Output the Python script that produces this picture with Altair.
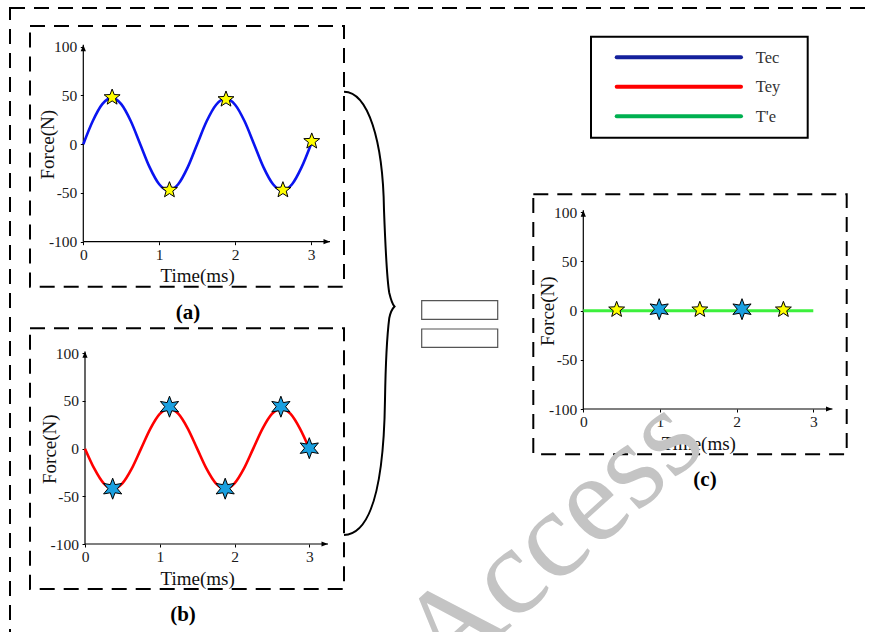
import math
import altair as alt
import pandas as pd

SERIF = "Liberation Serif"
W, H = 869, 632

# ---------------- data ----------------
time_ms = [0, 0.125, 0.25, 0.375, 0.5, 0.625, 0.75, 0.875, 1.0, 1.125, 1.25, 1.375,
           1.5, 1.625, 1.75, 1.875, 2.0, 2.125, 2.25, 2.375, 2.5, 2.625, 2.75, 2.875, 3.0]
force_tec = [0, 23.8, 41.1, 47.5, 41.1, 23.8, 0, -23.8, -41.1, -47.5, -41.1, -23.8,
             0, 23.5, 40.5, 46.8, 40.5, 23.5, 0, -23.8, -41.1, -47.5, -41.1, -23.8, 0]
force_tey = [0, -21, -36.4, -42, -36.4, -21, 0, 21, 36.4, 42, 36.4, 21,
             0, -21, -36.4, -42, -36.4, -21, 0, 21, 36.4, 42, 36.4, 21, 0]

star_a_t = [0.38, 1.135, 1.88, 2.63, 3.01]
star_a_f = [48, -47, 46, -47, 3]
star_b_t = [0.37, 1.13, 1.875, 2.62, 3.0]
star_b_f = [-42, 44, -42, 44, 0.5]

te_t = [0, 3]
te_f = [0, 0]
star_c5_t = [0.435, 1.52, 2.61]
star_c5_f = [1, 1, 1]
star_c6_t = [0.99, 2.07]
star_c6_f = [1.5, 1.5]

x_ticks = [0, 1, 2, 3]
y_ticks = [-100, -50, 0, 50, 100]
x_axis_end = 3.25
y_axis_end = 102

legend_labels = ["Tec", "Tey", "T'e"]
legend_colors = ["#14209c", "#ff0000", "#00b050"]
legend_rows = [0, 1, 2]

# ---------------- styles / geometry ----------------
GEO = {
    "a": dict(xr=[83.3, 311.0], yr=[241.7, 46.7]),
    "b": dict(xr=[85.0, 309.3], yr=[544.0, 353.3]),
    "c": dict(xr=[583.3, 813.3], yr=[409.0, 212.3]),
}

def star_path(n, inner):
    pts = []
    step = 180.0 / n
    for k in range(2 * n):
        ang = math.radians(-90 + step * k)
        r = 1.0 if k % 2 == 0 else inner
        pts.append((r * math.cos(ang), r * math.sin(ang)))
    return "M" + " L".join(f"{x:.4f},{y:.4f}" for x, y in pts) + " Z"

STAR5 = star_path(5, 0.42)
HEX = star_path(6, 0.45)
ARROW_RIGHT = "M0,0 L-2,-0.8 L-2,0.8 Z"
ARROW_UP = "M0,0 L-0.8,2 L0.8,2 Z"

# brace drawn as a custom symbol path (pixel outline relative to its centre)
BR_CX, BR_CY, BR_S = 369.0, 313.5, 221.5
brace_px = [
    ("M", [(344, 91.7)]),
    ("C", [(368, 92), (383, 140), (384, 210)]),
    ("C", [(385.5, 250), (387, 280), (389.3, 293)]),
    ("C", [(391, 300), (393, 305), (394.5, 306.5)]),
    ("C", [(393, 308), (390.5, 312), (389.3, 318)]),
    ("C", [(386.5, 340), (385.5, 370), (385, 400)]),
    ("C", [(384, 470), (375, 534), (344, 535)]),
]
BRACE = " ".join(
    cmd + " ".join(f"{(x - BR_CX) / BR_S:.4f},{(y - BR_CY) / BR_S:.4f}" for x, y in pts)
    for cmd, pts in brace_px
)

label_expr = "datum.value < 0 ? '-' + abs(datum.value) : '' + datum.value"


def panel(key, curve_t, curve_f, curve_color, curve_w, star_sets, interp):
    g = GEO[key]
    xs = alt.Scale(domain=[0, 3], range=g["xr"], nice=False, zero=False)
    ys = alt.Scale(domain=[-100, 100], range=g["yr"], nice=False, zero=False)
    x_axis = alt.Axis(
        orient="bottom", offset=g["yr"][0] - H, values=x_ticks, domain=False, grid=False,
        tickSize=3, tickColor="black", tickWidth=1,
        labelFont=SERIF, labelFontSize=15.5, labelColor="#1a1a1a",
        labelBaseline="alphabetic", labelPadding=14.5, labelFlush=False, labelOverlap=False,
        labelExpr=label_expr,
        title="Time(ms)", titleFont=SERIF, titleFontSize=19, titleFontWeight="normal",
        titleColor="#111111", titleBaseline="alphabetic", titleY=40,
    )
    y_axis = alt.Axis(
        orient="left", offset=-g["xr"][0], values=y_ticks, domain=False, grid=False,
        tickSize=3, tickColor="black", tickWidth=1,
        labelFont=SERIF, labelFontSize=15.5, labelColor="#1a1a1a",
        labelPadding=3.5, labelFlush=False, labelOverlap=False, labelExpr=label_expr,
        title="Force(N)", titleFont=SERIF, titleFontSize=19, titleFontWeight="normal",
        titleColor="#111111", titleBaseline="alphabetic", titleX=-30, titleAngle=270,
    )
    layers = []
    ax_df = pd.DataFrame({"x0": [0], "x1": [x_axis_end], "y0": [-100], "y1": [y_axis_end]})
    layers.append(alt.Chart(ax_df).mark_rule(color="black", strokeWidth=1.2).encode(
        x=alt.X("x0:Q", scale=xs, axis=None), x2="x1:Q",
        y=alt.Y("y0:Q", scale=ys, axis=None)))
    layers.append(alt.Chart(ax_df).mark_rule(color="black", strokeWidth=1.2).encode(
        x=alt.X("x0:Q", scale=xs, axis=None),
        y=alt.Y("y0:Q", scale=ys, axis=None), y2="y1:Q"))
    layers.append(alt.Chart(ax_df).mark_point(shape=ARROW_RIGHT, size=42, filled=True,
                                              color="black", opacity=1).encode(
        x=alt.X("x1:Q", scale=xs, axis=None), y=alt.Y("y0:Q", scale=ys, axis=None)))
    layers.append(alt.Chart(ax_df).mark_point(shape=ARROW_UP, size=42, filled=True,
                                              color="black", opacity=1).encode(
        x=alt.X("x0:Q", scale=xs, axis=None), y=alt.Y("y1:Q", scale=ys, axis=None)))
    cdf = pd.DataFrame({"t": curve_t, "f": curve_f})
    layers.append(alt.Chart(cdf).mark_line(color=curve_color, strokeWidth=curve_w,
                                           interpolate=interp).encode(
        x=alt.X("t:Q", scale=xs, axis=x_axis), y=alt.Y("f:Q", scale=ys, axis=y_axis)))
    for st_t, st_f, shape, size, fill in star_sets:
        sdf = pd.DataFrame({"t": st_t, "f": st_f})
        layers.append(alt.Chart(sdf).mark_point(shape=shape, size=size, filled=True,
                                                fill=fill, stroke="black", strokeWidth=1,
                                                opacity=1).encode(
            x=alt.X("t:Q", scale=xs, axis=None), y=alt.Y("f:Q", scale=ys, axis=None)))
    return layers


one = pd.DataFrame({"k": [0]})

def box(x1, y1, x2, y2, dash=True, color="black", width=2):
    kw = dict(filled=False, stroke=color, strokeWidth=width)
    if dash:
        kw["strokeDash"] = [15, 9]
    return alt.Chart(one).mark_rect(**kw).encode(
        x=alt.value(x1), x2=alt.value(x2), y=alt.value(y1), y2=alt.value(y2))

def label(txt, x, y, size=21, weight="bold", color="black", align="center"):
    return alt.Chart(one).mark_text(text=txt, font=SERIF, fontSize=size, fontWeight=weight,
                                    color=color, align=align, baseline="alphabetic").encode(
        x=alt.value(x), y=alt.value(y))

layers = []
layers.append(box(10, 8, 900, 660))
layers.append(box(30, 26, 344, 286.7))
layers.append(box(30, 328.3, 344, 589))
layers.append(box(533.3, 194.3, 846.7, 454.3))

layers += panel("a", time_ms, force_tec, "#0a14f0", 2.6,
                [(star_a_t, star_a_f, STAR5, 280, "#ffff00")], "monotone")
layers += panel("b", time_ms, force_tey, "#ff0000", 2.6,
                [(star_b_t, star_b_f, HEX, 441, "#1aa0e0")], "monotone")
layers += panel("c", te_t, te_f, "#3cf03c", 3,
                [(star_c5_t, star_c5_f, STAR5, 280, "#ffff00"),
                 (star_c6_t, star_c6_f, HEX, 441, "#1aa0e0")], "linear")

# brace and equals sign
layers.append(alt.Chart(one).mark_point(shape=BRACE, size=(2 * BR_S) ** 2, filled=False,
                                        stroke="black", strokeWidth=2, opacity=1).encode(
    x=alt.value(BR_CX), y=alt.value(BR_CY)))
layers.append(box(421.7, 300.7, 497.7, 319.3, dash=False, color="#555555", width=1.2))
layers.append(box(421.7, 329.0, 497.7, 347.3, dash=False, color="#555555", width=1.2))

# legend
layers.append(box(591, 36.7, 807.7, 137.7, dash=False, color="black", width=2))
leg_df = pd.DataFrame({"row": legend_rows, "label": legend_labels, "color": legend_colors})
leg_y = alt.Scale(domain=[0, 2], range=[57.3, 116.3], nice=False, zero=False)
layers.append(alt.Chart(leg_df).mark_rule(strokeWidth=4, strokeCap="round").encode(
    x=alt.value(616.7), x2=alt.value(741),
    y=alt.Y("row:Q", scale=leg_y, axis=None),
    color=alt.Color("color:N", scale=None, legend=None)))
layers.append(alt.Chart(leg_df).mark_text(font=SERIF, fontSize=16.5, color="#333333",
                                          align="left", baseline="alphabetic", dy=5.5).encode(
    x=alt.value(755.7), y=alt.Y("row:Q", scale=leg_y, axis=None), text="label:N"))

# panel captions
layers.append(label("(a)", 188, 319))
layers.append(label("(b)", 183, 621))
layers.append(label("(c)", 705, 486))

# watermark
layers.append(alt.Chart(one).mark_text(text="Access", font=SERIF, fontSize=125,
                                       color="#c4c4c4", angle=318, align="center",
                                       baseline="alphabetic").encode(
    x=alt.value(577), y=alt.value(567)))

chart = (
    alt.layer(*layers)
    .resolve_scale(x="independent", y="independent", color="independent")
    .resolve_axis(x="independent", y="independent")
    .properties(width=W, height=H, autosize=alt.AutoSizeParams(type="none"),
                padding=0, background="white")
    .configure_view(strokeWidth=0)
)

chart.save("out.html", embed_options={"renderer": "svg", "actions": False})
